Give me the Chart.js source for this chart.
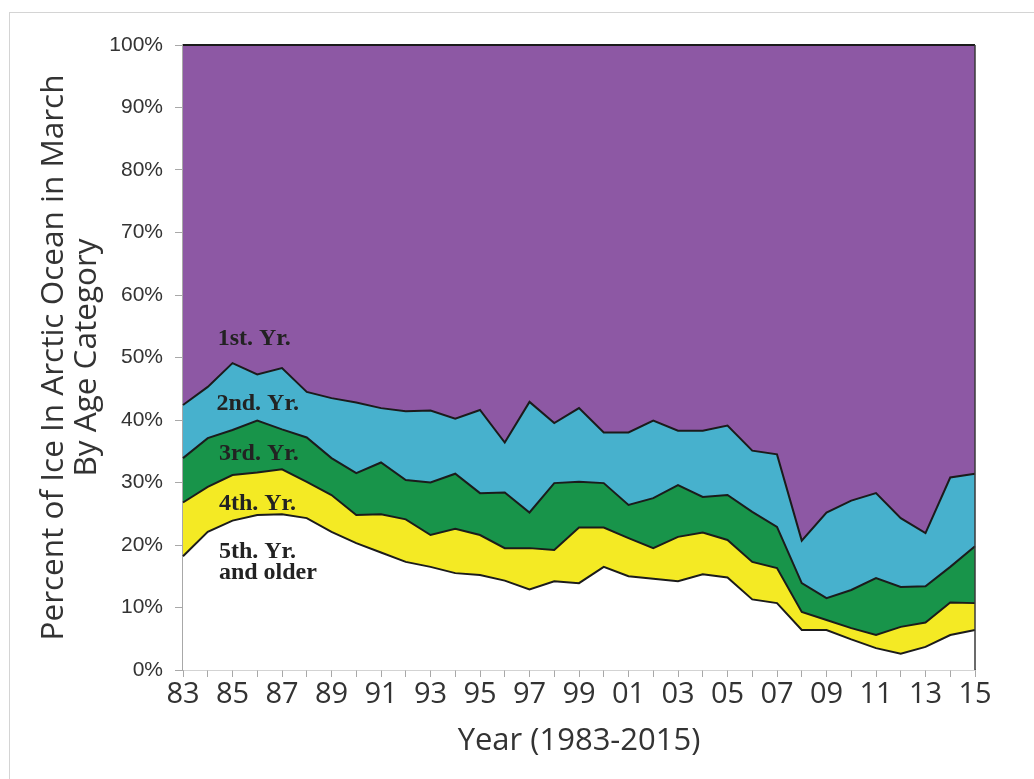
<!DOCTYPE html>
<html lang="en">
<head>
  <meta charset="UTF-8" />
  <title>Arctic sea ice by age</title>
  <script src="https://cdn.jsdelivr.net/npm/chart.js"></script>
  <style>
    html, body { margin: 0; padding: 0; background: #fff; overflow: hidden; }
    .frame {
      position: absolute;
      left: 9px;
      top: 12px;
      width: 1100px;
      height: 900px;
      border: 1px solid #d4d4d4;
    }
    .chart-box {
      position: absolute;
      left: 0;
      top: 0;
      width: 1034px;
      height: 779px;
    }
  </style>
</head>
<body>

<div class="frame"></div>
<div class="chart-box">
  <canvas id="iceChart" role="img" aria-label="Percent of ice in Arctic Ocean in March by age category"></canvas>
</div>

<script>
  // years 1983..2015, labels shown as two digits
  const years = ['83','84','85','86','87','88','89','90','91','92','93','94','95','96','97','98','99',
                 '00','01','02','03','04','05','06','07','08','09','10','11','12','13','14','15'];

  // percent of March ice per age class (stacked from oldest at the bottom)
  const fifthYr = [18.2, 22.1, 23.9, 24.8, 24.9, 24.3, 22.1, 20.3, 18.8, 17.3, 16.5, 15.5, 15.2, 14.3, 12.9, 14.2, 13.9,
                   16.5, 15.0, 14.6, 14.2, 15.3, 14.8, 11.3, 10.7, 6.4, 6.4, 4.9, 3.5, 2.6, 3.7, 5.6, 6.4];
  const fourthYr = [8.6, 7.2, 7.3, 6.8, 7.2, 5.8, 5.9, 4.5, 6.1, 6.8, 5.1, 7.1, 6.4, 5.2, 6.6, 5.0, 8.9,
                    6.3, 6.1, 4.9, 7.1, 6.7, 6.0, 6.0, 5.6, 2.9, 1.6, 1.8, 2.1, 4.3, 3.9, 5.2, 4.3];
  const thirdYr = [7.1, 7.8, 7.2, 8.3, 6.4, 7.1, 5.9, 6.7, 8.3, 6.3, 8.4, 8.8, 6.7, 8.9, 5.7, 10.7, 7.3,
                   7.1, 5.3, 8.0, 8.3, 5.7, 7.2, 8.0, 6.6, 4.6, 3.5, 6.1, 9.1, 6.4, 5.8, 5.7, 9.1];
  const secondYr = [8.5, 8.2, 10.7, 7.4, 9.8, 7.3, 9.6, 11.3, 8.7, 11.0, 11.5, 8.8, 13.3, 8.0, 17.7, 9.6, 11.8,
                    8.1, 11.6, 12.4, 8.7, 10.6, 11.1, 9.8, 11.6, 6.8, 13.7, 14.3, 13.6, 11.0, 8.5, 14.3, 11.6];
  const firstYr = [57.6, 54.7, 50.9, 52.7, 51.7, 55.5, 56.5, 57.2, 58.1, 58.6, 58.5, 59.8, 58.4, 63.6, 57.1, 60.5, 58.1,
                   62.0, 62.0, 60.1, 61.7, 61.7, 60.9, 64.9, 65.5, 79.3, 74.8, 72.9, 71.7, 75.7, 78.1, 69.2, 68.6];

  const yTicks = [0, 10, 20, 30, 40, 50, 60, 70, 80, 90, 100];

  // in-chart category names: [text, x index, y value of baseline]
  const areaLabels = [
    ['1st. Yr.', 1.4, 52],
    ['2nd. Yr.', 1.35, 41.6],
    ['3rd. Yr.', 1.45, 33.6],
    ['4th. Yr.', 1.45, 25.6],
    ['5th. Yr.', 1.45, 17.9],
    ['and older', 1.45, 14.5]
  ];

  const band = (label, data, color, fill) => ({
    label: label,
    data: data,
    backgroundColor: color,
    borderColor: '#1b1b1b',
    borderWidth: 2,
    fill: fill,
    pointRadius: 0,
    tension: 0,
    clip: 4
  });

  const frameLines = {
    id: 'frameLines',
    afterDatasetsDraw(chart) {
      const { ctx, chartArea: a } = chart;
      ctx.save();
      ctx.strokeStyle = '#3a3a3a';
      ctx.lineWidth = 1.5;
      ctx.beginPath();
      ctx.moveTo(a.right, a.top);
      ctx.lineTo(a.right, a.bottom);
      ctx.stroke();

      ctx.fillStyle = '#222';
      ctx.font = 'bold 24px "Liberation Serif", "DejaVu Serif", serif';
      ctx.textAlign = 'left';
      ctx.textBaseline = 'alphabetic';
      const xs = chart.scales.x, ys = chart.scales.y;
      areaLabels.forEach(([txt, xi, yv]) => {
        ctx.fillText(txt, xs.getPixelForValue(xi), ys.getPixelForValue(yv));
      });
      ctx.restore();
    }
  };

  new Chart(document.getElementById('iceChart'), {
    type: 'line',
    data: {
      labels: years,
      datasets: [
        band('5th. Yr. and older', fifthYr, '#ffffff', 'origin'),
        band('4th. Yr.', fourthYr, '#f4ea24', '-1'),
        band('3rd. Yr.', thirdYr, '#18944a', '-1'),
        band('2nd. Yr.', secondYr, '#47b1cd', '-1'),
        band('1st. Yr.', firstYr, '#8d58a4', '-1')
      ]
    },
    options: {
      responsive: true,
      maintainAspectRatio: false,
      animation: false,
      layout: { padding: { left: 0, top: 45, right: 59, bottom: 0 } },
      plugins: { legend: { display: false }, tooltip: { enabled: false } },
      scales: {
        x: {
          offset: false,
          grid: { drawOnChartArea: false, drawTicks: true, tickLength: 7, color: '#a8a8a8' },
          border: { color: '#a8a8a8', width: 1.5 },
          ticks: {
            autoSkip: false,
            maxRotation: 0,
            padding: 0,
            color: '#333',
            font: { family: '"Open Sans", sans-serif', size: 29 },
            callback: (v, i) => (i % 2 === 0 ? years[i] : '')
          },
          title: {
            display: true,
            text: 'Year (1983-2015)',
            color: '#333',
            font: { family: '"Open Sans", sans-serif', size: 31, lineHeight: 1.05 },
            padding: { top: 0, bottom: 22 }
          },
          afterFit: (s) => { s.height = 109; }
        },
        y: {
          stacked: true,
          min: 0,
          max: 100,
          afterBuildTicks: (s) => { s.ticks = yTicks.map(v => ({ value: v })); },
          grid: { drawOnChartArea: false, drawTicks: true, tickLength: 8, color: '#a8a8a8' },
          border: { color: '#a8a8a8', width: 1.5 },
          ticks: {
            padding: 12,
            color: '#333',
            font: { family: '"Liberation Sans", Arial, sans-serif', size: 21 },
            callback: (v) => v + '%'
          },
          title: {
            display: true,
            text: ['Percent of Ice In Arctic Ocean in March', 'By Age Category'],
            color: '#333',
            font: { family: '"Open Sans", sans-serif', size: 31.5, lineHeight: 1.05 },
            padding: { top: 37, bottom: 0 }
          },
          afterFit: (s) => { s.width = 183; }
        }
      }
    },
    plugins: [frameLines]
  });
</script>

</body>
</html>
